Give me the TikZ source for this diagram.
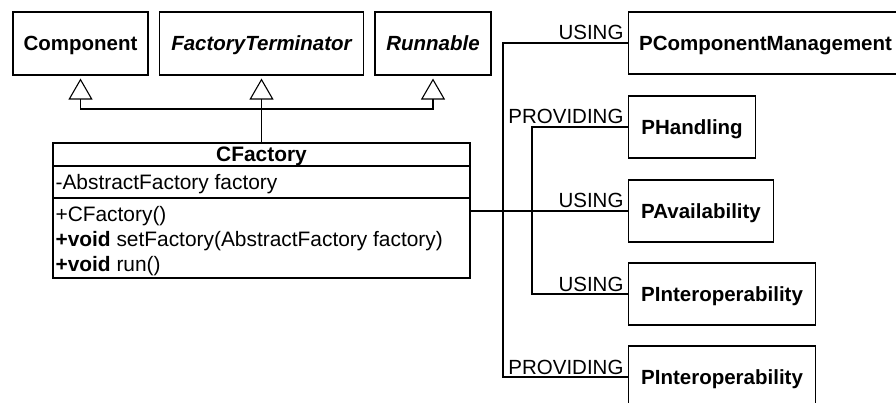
\documentclass[tikz,border=0pt]{standalone}
\usepackage{fontspec}
\setmainfont{Liberation Sans}
\usetikzlibrary{arrows.meta}
\begin{document}
\begin{tikzpicture}[x=1pt,y=-1pt,line width=1.1pt,
  classbox/.style={draw,line width=1.1pt,minimum height=62pt,inner sep=0pt,
    font=\fontsize{20.5pt}{24pt}\selectfont\bfseries,text height=15pt,text depth=0pt},
  lbl/.style={font=\fontsize{20.5pt}{24pt}\selectfont,inner sep=0pt,anchor=base east},
  txt/.style={font=\fontsize{20.9pt}{24pt}\selectfont,inner sep=0pt,anchor=base west},
  gen/.style={-{Triangle[open,length=21pt,width=24pt,line width=1.1pt]},shorten >=3pt}]
\useasboundingbox (0,0) rectangle (896,403);
\clip (0,0) rectangle (896,403);
% interfaces / superclasses
\node[classbox,minimum width=135pt,minimum height=63pt] (comp) at (80.5,43.5) {Component};
\node[classbox,minimum width=204pt,minimum height=63pt] (ft) at (261.5,43.5) {\itshape FactoryTerminator};
\node[classbox,minimum width=116pt,minimum height=63pt] (run) at (433,43.5) {\itshape Runnable};
% CFactory
\node[draw,line width=1.1pt,minimum width=417pt,minimum height=135pt,inner sep=0pt] (cf) at (261.5,210.5) {};
\draw (cf.west |- 0,166) -- (cf.east |- 0,166);
\draw (cf.west |- 0,198) -- (cf.east |- 0,198);
\node[txt,anchor=base,font=\fontsize{20.9pt}{24pt}\selectfont\bfseries] (cft) at (261.5,162) {CFactory};
\node[txt] (cfa) at (55,190) {-AbstractFactory factory};
\node[txt] (cfm1) at (55,222) {+CFactory()};
\node[txt] (cfm2) at (55,247) {\textbf{+void} setFactory(AbstractFactory factory)};
\node[txt] (cfm3) at (55,272) {\textbf{+void} run()};
% generalization
\coordinate (j) at (261.5,109);
\draw[gen] (cf.north) -- (ft.south);
\draw[gen] (j) -| (comp.south);
\draw[gen] (j) -| (run.south);
% protocol boxes
\node[classbox,anchor=west,minimum width=274pt] (pcm) at (628,43) {PComponentManagement};
\node[classbox,anchor=west,minimum width=127pt] (pha) at (628,127) {PHandling};
\node[classbox,anchor=west,minimum width=145pt] (pav) at (628,211) {PAvailability};
\node[classbox,anchor=west,minimum width=187pt] (pi1) at (628,294) {PInteroperability};
\node[classbox,anchor=west,minimum width=187pt] (pi2) at (628,377) {PInteroperability};
% connectors
\coordinate (busA) at (503,211);
\coordinate (busB) at (532,211);
\draw (pav.west) -- (pav.west -| cf.east);
\draw (pcm.west) -- (pcm.west -| busA) -- (pi2.west -| busA) -- (pi2.west);
\draw (pha.west) -- (pha.west -| busB) -- (pi1.west -| busB) -- (pi1.west);
% labels
\node[lbl] (l1) at ([xshift=-4pt,yshift=3pt]pcm.west) {USING};
\node[lbl] (l2) at ([xshift=-4pt,yshift=3pt]pha.west) {PROVIDING};
\node[lbl] (l3) at ([xshift=-4pt,yshift=3pt]pav.west) {USING};
\node[lbl] (l4) at ([xshift=-4pt,yshift=3pt]pi1.west) {USING};
\node[lbl] (l5) at ([xshift=-4pt,yshift=3pt]pi2.west) {PROVIDING};
\end{tikzpicture}
\end{document}
